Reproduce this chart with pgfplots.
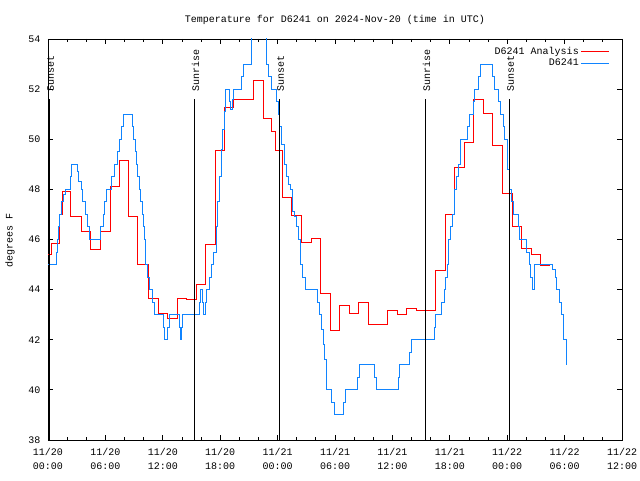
\documentclass[border=0pt]{standalone}
\usepackage{pgfplots}
\pgfplotsset{compat=1.18}
\usepackage{fontspec}
\setmainfont{Liberation Mono}
\definecolor{anared}{RGB}{255,0,0}
\definecolor{obsblue}{RGB}{16,132,255}
\begin{document}
\begin{tikzpicture}
\begin{axis}[
  scale only axis, width=574pt, height=401pt,
  xmin=0, xmax=60, ymin=38, ymax=54,
  xtick={0,6,...,60}, minor xtick={2,4,8,10,14,16,20,22,26,28,32,34,38,40,44,46,50,52,56,58},
  xticklabels={11/20\\00:00,11/20\\06:00,11/20\\12:00,11/20\\18:00,11/21\\00:00,11/21\\06:00,11/21\\12:00,11/21\\18:00,11/22\\00:00,11/22\\06:00,11/22\\12:00},
  xticklabel style={align=center, font=\fontsize{10}{13.5}\selectfont, yshift=-5pt},
  ytick={38,40,...,54},
  yticklabel style={xshift=-4pt},
  /pgf/number format/assume math mode=true,
  tick align=inside, major tick length=5pt, minor tick length=3pt,
  tick style={black, line width=0.8pt},
  axis line style={black, line width=0.8pt},
  font=\fontsize{10}{12}\selectfont,
  legend cell align=right, legend plot pos=right,
  legend style={draw=none, fill=none, at={(0.979,0.985)}, anchor=north east, inner sep=0pt, row sep=-1pt,
    font=\fontsize{10}{11}\selectfont,
    /tikz/every even column/.append style={column sep=6pt}},
  legend image code/.code={\draw[#1] (0pt,0pt) -- (28pt,0pt);},
]
\addplot[const plot, anared, line width=1pt] coordinates {
(0,45.4) (0.4,45.85) (1.2,47.0) (1.5,47.93) (2.3,46.9) (3.5,46.3) (4.4,45.6) (5.5,46.3)
(6.5,48.1) (7.5,49.17) (8.4,46.9) (9.4,45.0) (10.5,43.65) (11.5,43.05) (12.5,42.85) (13.5,43.65)
(14.5,43.6) (15.5,44.2) (16.5,45.8) (17.5,49.57) (18.5,51.26) (19.4,51.6) (21.5,52.36) (22.5,50.84)
(23.4,50.3) (23.8,49.57) (24.5,47.67) (25.5,46.94) (26.5,45.89) (27.5,46.05) (28.5,43.85) (29.5,42.35)
(30.5,43.37) (31.5,43.05) (32.5,43.48) (33.5,42.6) (35.5,43.16) (36.5,42.99) (37.5,43.25) (38.5,43.15)
(40.5,44.78) (41.5,46.98) (42.5,48.88) (43.5,49.88) (44.5,51.6) (45.5,51.03) (46.5,49.74) (47.5,47.84)
(48.6,46.5) (49.5,45.65) (50.5,45.4) (51.5,44.95) (52.5,44.95)
};
\addlegendentry{D6241 Analysis}
\addplot[const plot, obsblue, line width=1pt] coordinates {
(0,45) (0.9,45.5) (1.0,46) (1.15,46.5) (1.25,47) (1.45,47.5) (1.6,47.8) (1.85,48) (2.3,48.5) (2.45,49)
(3.06,48.7) (3.2,48.3) (3.45,48) (3.65,47.5) (3.87,47) (4.1,46.5) (4.39,46) (5.54,46.5) (5.75,47) (5.95,47.5)
(6.1,48) (6.6,48.5) (6.9,49) (7.3,49.5) (7.5,50) (7.7,50.5) (7.87,51) (8.8,50.5) (8.95,50) (9.1,49.5)
(9.25,49) (9.4,48.5) (9.55,48) (9.7,47.5) (9.85,47) (9.95,46.5) (10.05,46) (10.14,45) (10.4,44.5) (10.66,44)
(10.9,43.5) (11.1,43) (12.05,42.5) (12.2,42) (12.5,42.5) (12.7,43) (13.7,42.5) (13.8,42) (13.95,42.5) (14.05,43)
(15.8,43.5) (15.95,44) (16.15,43.5) (16.3,43) (16.5,43.5) (16.6,44) (16.85,44.5) (17.1,45) (17.35,45.5) (17.6,46.5)
(17.75,47.5) (17.9,48.5) (18.1,49.6) (18.25,50.4) (18.4,51.1) (18.6,52) (18.95,51.5) (19.1,51.2) (19.25,51.6) (19.4,52)
(20.25,52.5) (20.4,53) (21.3,55) (22.8,53) (23.05,52.5) (23.4,52) (23.9,51.5) (24.05,51) (24.2,50.5) (24.45,49.8)
(24.7,49) (24.9,48.5) (25.1,48.2) (25.3,48) (25.6,47.1) (25.8,46.9) (26.0,46.5) (26.2,46) (26.4,45) (26.65,44.5)
(26.9,44) (28.2,43.5) (28.4,43) (28.6,42.4) (28.75,41.8) (28.9,41.2) (29.1,40) (29.6,39.5) (29.9,39) (30.9,39.5)
(31.05,40) (32.4,40.5) (32.55,41) (34.1,40.5) (34.3,40) (36.6,40.5) (36.75,41) (37.8,41.5) (38.0,42) (40.35,42.5)
(40.55,43) (41.15,43.5) (41.4,44) (41.6,44.5) (41.75,45) (41.9,46) (42.1,46.5) (42.25,47) (42.5,48) (42.7,48.5)
(42.9,49) (43.1,50) (43.9,50.5) (44.1,51) (44.45,51.5) (44.6,52) (45.0,52.5) (45.2,53) (46.5,52.5) (46.7,52)
(47.1,51.5) (47.25,51) (47.6,50.5) (47.7,50) (48.0,48.8) (48.2,48) (48.5,47.5) (48.7,47) (49.2,46.5) (49.3,46)
(50.0,45.5) (50.3,45) (50.45,44.5) (50.66,44) (50.8,44.5) (50.9,45) (52.75,44.8) (53.0,44.5) (53.2,44) (53.45,43.5)
(53.7,43) (53.9,42) (54.2,41)
};
\addlegendentry{D6241}
% sunrise / sunset markers
\addplot[black, line width=0.8pt, forget plot] coordinates {(0.14,38) (0.14,51.6)};
\addplot[black, line width=0.8pt, forget plot] coordinates {(15.29,38) (15.29,51.6)};
\addplot[black, line width=0.8pt, forget plot] coordinates {(24.18,38) (24.18,51.6)};
\addplot[black, line width=0.8pt, forget plot] coordinates {(39.44,38) (39.44,51.6)};
\addplot[black, line width=0.8pt, forget plot] coordinates {(48.22,38) (48.22,51.6)};
\coordinate (S1) at (axis cs:0.28,51.88);
\coordinate (S2) at (axis cs:15.43,51.88);
\coordinate (S3) at (axis cs:24.32,51.88);
\coordinate (S4) at (axis cs:39.58,51.88);
\coordinate (S5) at (axis cs:48.36,51.88);
\coordinate (T) at (axis cs:30,54.76);
\coordinate (YL) at (axis cs:-3.97,45.98);
\coordinate (BL) at (axis cs:-5.017,36.40);
\coordinate (TR) at (axis cs:61.88,55.556);
\end{axis}
\begin{scope}[every node/.style={rotate=90, anchor=west, inner sep=0pt, font=\fontsize{10}{12}\selectfont}]
\node at (S1) {Sunset};
\node at (S2) {Sunrise};
\node at (S3) {Sunset};
\node at (S4) {Sunrise};
\node at (S5) {Sunset};
\end{scope}
\node[font=\fontsize{10}{12}\selectfont] at (T) {Temperature for D6241 on 2024-Nov-20 (time in UTC)};
\node[rotate=90, font=\fontsize{10}{12}\selectfont] at (YL) {degrees F};
\pgfresetboundingbox
\path[use as bounding box] (BL) rectangle (TR);
\end{tikzpicture}
\end{document}
